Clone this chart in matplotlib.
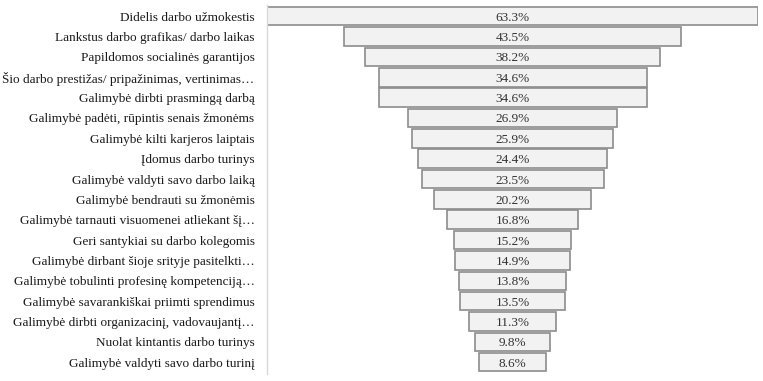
import matplotlib.pyplot as plt

# Duomenys
labels = [
    "Didelis darbo užmokestis",
    "Lankstus darbo grafikas/ darbo laikas",
    "Papildomos socialinės garantijos",
    "Šio darbo prestižas/ pripažinimas, vertinimas…",
    "Galimybė dirbti prasmingą darbą",
    "Galimybė padėti, rūpintis senais žmonėms",
    "Galimybė kilti karjeros laiptais",
    "Įdomus darbo turinys",
    "Galimybė valdyti savo darbo laiką",
    "Galimybė bendrauti su žmonėmis",
    "Galimybė tarnauti visuomenei atliekant šį…",
    "Geri santykiai su darbo kolegomis",
    "Galimybė dirbant šioje srityje pasitelkti…",
    "Galimybė tobulinti profesinę kompetenciją…",
    "Galimybė savarankiškai priimti sprendimus",
    "Galimybė dirbti organizacinį, vadovaujantį…",
    "Nuolat kintantis darbo turinys",
    "Galimybė valdyti savo darbo turinį",
]
values = [63.3, 43.5, 38.2, 34.6, 34.6, 26.9, 25.9, 24.4, 23.5, 20.2,
          16.8, 15.2, 14.9, 13.8, 13.5, 11.3, 9.8, 8.6]

plt.rcParams['font.family'] = ['Liberation Serif', 'DejaVu Serif']

fig = plt.figure(figsize=(7.63, 3.81), dpi=100)
ax = fig.add_axes([0.35, 0.0184, 0.6435, 0.9685])

pos = list(range(len(values)))
lefts = [-v / 2 for v in values]
ax.barh(pos, values, left=lefts, height=0.91, color='#f2f2f2',
        edgecolor='#8c8c8c', linewidth=1.2)

for p, v in zip(pos, values):
    ax.text(0, p, f"{v:.1f}%", ha='center', va='center_baseline',
            fontsize=9.5, color='#333333')

ax.set_xlim(-max(values) / 2 - 0.05, max(values) / 2 + 0.05)
ax.set_ylim(17.58, -0.55)
ax.set_yticks(pos)
ax.set_yticklabels(labels, fontsize=9.5, color='#1a1a1a')
ax.tick_params(axis='y', length=0, pad=9)
ax.set_xticks([])
for s in ['top', 'right', 'bottom']:
    ax.spines[s].set_visible(False)
ax.spines['left'].set_color('#d9d9d9')
ax.spines['left'].set_linewidth(1.0)

fig.savefig('out.png', dpi=100)
